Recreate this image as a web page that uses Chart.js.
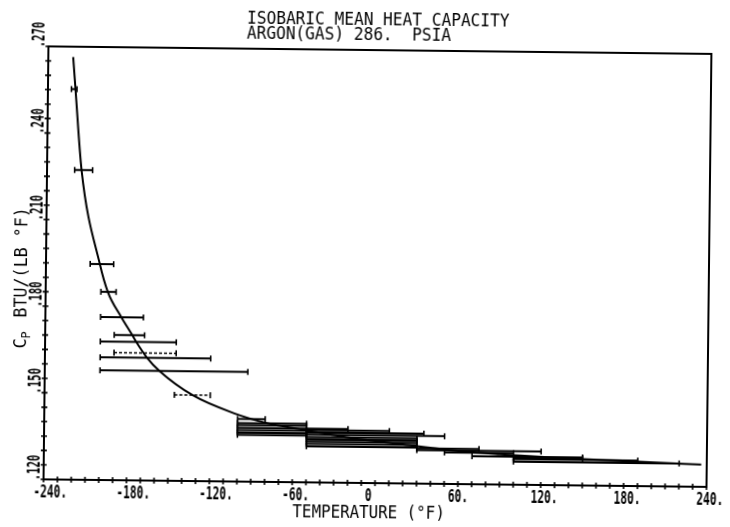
<!DOCTYPE html>
<html>
<head>
<meta charset="utf-8">
<title>Isobaric mean heat capacity - argon</title>
<script src="https://cdn.jsdelivr.net/npm/chart.js@4.4.1/dist/chart.umd.min.js"></script>
<style>
  html, body { margin: 0; padding: 0; background: #fff; }
  /* the plotter sheet sits slightly askew */
  #sheet { width: 730px; height: 527px; transform: rotate(0.65deg); }
</style>
</head>
<body>
<div id="sheet"><canvas id="cpChart" width="730" height="527"></canvas></div>
<script>
// fitted Cp curve (deg F, BTU/lb F)
const curveTemps = [-222, -220, -215, -201, -195, -185, -177, -174, -166, -157, -133, -103, -79, -55, -18, 18, 54, 90, 126, 163, 199, 236];
const curveCp = [0.2664, 0.2550, 0.2273, 0.1948, 0.1852, 0.1765, 0.1704, 0.1680, 0.1625, 0.1580, 0.1498, 0.1437, 0.1404, 0.1384, 0.1356, 0.1336, 0.1317, 0.1305, 0.1296, 0.1289, 0.1283, 0.1277];

// measured mean heat capacity over a temperature interval
const rangeLow = [-223, -220, -208, -200, -200, -190, -200, -190, -200, -200, -146,
  -100, -100, -100, -100, -100, -100, -100,
  -50, -50, -50, -50, -50, -50, -50, -50,
  30, 30, 50, 70, 100, 100, 100];
const rangeHigh = [-219, -207, -191, -189, -169, -168, -145, -145, -120, -93, -120,
  -80, -50, -50, -20, -50, -50, -50,
  10, 35, 50, 30, 30, 30, 30, 30,
  75, 120, 100, 150, 150, 190, 220];
const rangeCp = [0.2553, 0.2273, 0.1948, 0.1852, 0.1765, 0.1703, 0.1680, 0.1642, 0.1625, 0.1580, 0.1498,
  0.1417, 0.1403, 0.1396, 0.1386, 0.1378, 0.1370, 0.1362,
  0.1381, 0.1373, 0.1365, 0.1357, 0.1349, 0.1341, 0.1333, 0.1325,
  0.1322, 0.1316, 0.1309, 0.1297, 0.1293, 0.1288, 0.1280];

const xTickValues = [-240, -180, -120, -60, 0, 60, 120, 180, 240];
const xTickLabels = ['-240.', '-180.', '-120.', '-60.', '0', '60.', '120.', '180.', '240.'];
const yTickValues = [0.12, 0.15, 0.18, 0.21, 0.24, 0.27];
const yTickLabels = ['.120', '.150', '.180', '.210', '.240', '.270'];

const titleLines = ['ISOBARIC MEAN HEAT CAPACITY', 'ARGON(GAS) 286.  PSIA'];
const xTitle = 'TEMPERATURE (\u00B0F)';
const yTitleMain = 'BTU/(LB \u00B0F)';

const INK = '#000';
const MONO = '"DejaVu Sans Mono", monospace';
const dottedRanges = [7, 10];

// text helper: optional vertical (reading upward) and horizontal squeeze
function plotText(ctx, str, x, y, size, opts = {}) {
    ctx.save();
    ctx.translate(x, y);
    if (opts.vertical) ctx.rotate(-Math.PI / 2);
    ctx.scale(opts.squeeze || 1, 1);
    ctx.font = (opts.bold ? 'bold ' : '') + size + 'px ' + MONO;
    ctx.fillStyle = INK;
    ctx.textAlign = opts.align || 'left';
    ctx.textBaseline = 'alphabetic';
    ctx.fillText(str, 0, 0);
    ctx.restore();
}

const plotterFrame = {
    id: 'plotterFrame',
    afterDraw(chart) {
        const { ctx, chartArea: a, scales: { x, y } } = chart;
        ctx.save();
        ctx.strokeStyle = INK;
        ctx.lineWidth = 2;
        ctx.strokeRect(a.left, a.top, a.right - a.left, a.bottom - a.top);

        // minor ticks crossing the two axes
        ctx.lineWidth = 1.6;
        ctx.beginPath();
        for (let v = x.min; v <= x.max + 1e-9; v += 10) {
            const px = x.getPixelForValue(v);
            ctx.moveTo(px, a.bottom - 3);
            ctx.lineTo(px, a.bottom + 3);
        }
        for (let i = 0; i <= 30; i++) {
            const py = y.getPixelForValue(y.min + i * 0.005);
            ctx.moveTo(a.left - 3, py);
            ctx.lineTo(a.left + 3, py);
        }
        ctx.stroke();
        ctx.restore();

        xTickValues.forEach((v, i) => {
            plotText(ctx, xTickLabels[i], x.getPixelForValue(v) - 10, a.bottom + 18, 17, { bold: true, squeeze: 0.66 });
        });
        yTickValues.forEach((v, i) => {
            plotText(ctx, yTickLabels[i], a.left - 4, y.getPixelForValue(v) + 1, 17, { bold: true, squeeze: 0.62, vertical: true });
        });

        // titles
        const mid = (a.left + a.right) / 2 - 2;
        ctx.save();
        ctx.font = '17px ' + MONO;
        const w1 = ctx.measureText(titleLines[0]).width * 0.95;
        ctx.restore();
        plotText(ctx, titleLines[0], mid - w1 / 2, 25, 17, { squeeze: 0.95 });
        plotText(ctx, titleLines[1], mid - w1 / 2, 40, 17, { squeeze: 0.95 });
        plotText(ctx, xTitle, mid - 4, a.bottom + 35, 17, { squeeze: 0.93, align: 'center' });

        // C with subscript P, then units
        const yMid = (a.top + a.bottom) / 2;
        const ty = yMid + 86;
        plotText(ctx, 'C', 27, ty, 17, { vertical: true });
        plotText(ctx, 'P', 31, ty - 10, 12, { vertical: true });
        plotText(ctx, yTitleMain, 27, ty - 31, 17, { vertical: true, squeeze: 0.98 });
    }
};

const rangeSets = rangeCp.map((cp, i) => ({
    data: [{ x: rangeLow[i], y: cp }, { x: rangeHigh[i], y: cp }],
    borderColor: INK,
    borderWidth: dottedRanges.includes(i) ? 1.5 : 2,
    borderDash: dottedRanges.includes(i) ? [3, 2] : [],
    pointStyle: 'line',
    pointRotation: 90,
    pointRadius: 3,
    pointBorderWidth: 1.6,
    pointBorderColor: INK,
    tension: 0
}));

const curveSet = {
    data: curveTemps.map((t, i) => ({ x: t, y: curveCp[i] })),
    borderColor: INK,
    borderWidth: 2,
    pointRadius: 0,
    cubicInterpolationMode: 'monotone'
};

new Chart(document.getElementById('cpChart'), {
    type: 'line',
    data: { datasets: [curveSet, ...rangeSets] },
    options: {
        responsive: false,
        animation: false,
        events: [],
        layout: { padding: { left: 46, right: 21, top: 50, bottom: 44 } },
        plugins: { legend: { display: false }, tooltip: { enabled: false }, title: { display: false } },
        scales: {
            x: { type: 'linear', min: -240, max: 240, display: false },
            y: { type: 'linear', min: 0.12, max: 0.27, display: false }
        }
    },
    plugins: [plotterFrame]
});
</script>
</body>
</html>
